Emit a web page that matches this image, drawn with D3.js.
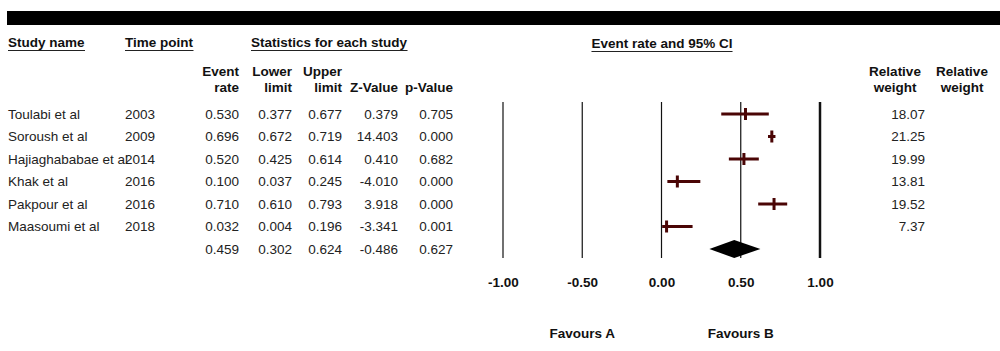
<!DOCTYPE html>
<html>
<head>
<meta charset="utf-8">
<script src="https://cdn.jsdelivr.net/npm/d3@7"></script>
<style>
  html, body { margin: 0; padding: 0; background: #fff; }
  svg { display: block; font-family: "Liberation Sans", Arial, sans-serif; }
</style>
</head>
<body>
<svg id="chart"></svg>
<script>
// ───────────────── DATA ─────────────────
const studies = ["Toulabi et al", "Soroush et al", "Hajiaghababae et al", "Khak et al", "Pakpour et al", "Maasoumi et al"];
const years = ["2003", "2009", "2014", "2016", "2016", "2018"];
const eventRate = [0.530, 0.696, 0.520, 0.100, 0.710, 0.032];
const lowerLimit = [0.377, 0.672, 0.425, 0.037, 0.610, 0.004];
const upperLimit = [0.677, 0.719, 0.614, 0.245, 0.793, 0.196];
const zValue = [0.379, 14.403, 0.410, -4.010, 3.918, -3.341];
const pValue = [0.705, 0.000, 0.682, 0.000, 0.000, 0.001];
const relWeight = [18.07, 21.25, 19.99, 13.81, 19.52, 7.37];

const summary = { rate: 0.459, lower: 0.302, upper: 0.624, z: -0.486, p: 0.627 };

const axisTicks = [-1, -0.5, 0, 0.5, 1];

// ───────────────── SIZE ─────────────────
const W = 1000;
const H = 351;
const FS = 13.5;
const MAROON = "#4a0505";

const svg = d3.select("#chart")
  .attr("width", W)
  .attr("height", H)
  .attr("viewBox", `0 0 ${W} ${H}`)
  .style("font-size", FS + "px");

// plain hyphen instead of unicode minus
const hyph = f => v => f(v).replace("\u2212", "-");
const fmt3 = hyph(d3.format(".3f"));
const fmt2 = hyph(d3.format(".2f"));

// black band
svg.append("rect")
  .attr("x", 7).attr("y", 11)
  .attr("width", W - 7).attr("height", 14)
  .attr("fill", "#000");

// ───── HEADERS ─────
function underlined(x, y, txt, anchor) {
  const t = svg.append("text")
    .attr("x", x).attr("y", y)
    .attr("text-anchor", anchor || "start")
    .attr("font-weight", "bold")
    .attr("fill", "#111")
    .text(txt);
  const bb = t.node().getBBox();
  svg.append("line")
    .attr("x1", bb.x).attr("x2", bb.x + bb.width)
    .attr("y1", y + 3.5).attr("y2", y + 3.5)
    .attr("stroke", "#222").attr("stroke-width", 1);
}

underlined(8, 47, "Study name");
underlined(125, 47, "Time point");
underlined(251, 47, "Statistics for each study");
underlined(662, 48, "Event rate and 95% CI", "middle");

// column right edges
const colX = [239, 292, 342, 398, 453];
const colHead = [["Event", "rate"], ["Lower", "limit"], ["Upper", "limit"], ["", "Z-Value"], ["", "p-Value"]];

colHead.forEach((h, i) => {
  h.forEach((line, k) => {
    svg.append("text")
      .attr("x", colX[i]).attr("y", 76 + k * 16)
      .attr("text-anchor", "end")
      .attr("font-weight", "bold")
      .attr("fill", "#111")
      .text(line);
  });
});

[895, 962].forEach(cx => {
  ["Relative", "weight"].forEach((line, k) => {
    svg.append("text")
      .attr("x", cx).attr("y", 76 + k * 16)
      .attr("text-anchor", "middle")
      .attr("font-weight", "bold")
      .attr("fill", "#111")
      .text(line);
  });
});

// ───── ROWS ─────
const rowY = d3.scaleLinear().domain([0, 6]).range([114, 249]);

const rows = svg.append("g").attr("fill", "#222");

studies.forEach((s, i) => {
  const yb = rowY(i) + 4.5;
  rows.append("text").attr("x", 8).attr("y", yb).text(s);
  rows.append("text").attr("x", 125).attr("y", yb).text(years[i]);
  const vals = [eventRate[i], lowerLimit[i], upperLimit[i], zValue[i], pValue[i]];
  vals.forEach((v, c) => {
    rows.append("text")
      .attr("x", colX[c]).attr("y", yb)
      .attr("text-anchor", "end")
      .text(fmt3(v));
  });
  rows.append("text")
    .attr("x", 925).attr("y", yb)
    .attr("text-anchor", "end")
    .text(fmt2(relWeight[i]));
});

// summary row
[summary.rate, summary.lower, summary.upper, summary.z, summary.p].forEach((v, c) => {
  rows.append("text")
    .attr("x", colX[c]).attr("y", rowY(6) + 4.5)
    .attr("text-anchor", "end")
    .text(fmt3(v));
});

// ───── FOREST ─────
const xScale = d3.scaleLinear().domain([-1, 1]).range([503, 820]);

svg.append("g")
  .selectAll("line")
  .data(axisTicks)
  .join("line")
  .attr("x1", d => xScale(d)).attr("x2", d => xScale(d))
  .attr("y1", 102).attr("y2", 258)
  .attr("stroke", "#111")
  .attr("stroke-width", d => d === 1 ? 2.5 : 1.2);

const axis = svg.append("g")
  .attr("transform", "translate(0,274)")
  .call(d3.axisBottom(xScale).tickValues(axisTicks).tickFormat(fmt2).tickSize(0));

axis.select(".domain").remove();
axis.selectAll("text")
  .attr("font-family", "Liberation Sans, Arial, sans-serif")
  .attr("font-size", FS)
  .attr("font-weight", "bold")
  .attr("fill", "#111");

const ci = svg.append("g").attr("stroke", MAROON).attr("stroke-width", 3);

studies.forEach((s, i) => {
  const y = rowY(i);
  ci.append("line")
    .attr("x1", xScale(lowerLimit[i])).attr("x2", xScale(upperLimit[i]))
    .attr("y1", y).attr("y2", y);
  ci.append("line")
    .attr("x1", xScale(eventRate[i])).attr("x2", xScale(eventRate[i]))
    .attr("y1", y - 6).attr("y2", y + 6);
});

// diamond
const dy = rowY(6);
svg.append("path")
  .attr("d", d3.line()([
    [xScale(summary.lower), dy],
    [xScale(summary.rate), dy - 9],
    [xScale(summary.upper), dy],
    [xScale(summary.rate), dy + 9]
  ]) + "Z")
  .attr("fill", "#000");

// favours labels
[["Favours A", -0.5], ["Favours B", 0.5]].forEach(([t, v]) => {
  svg.append("text")
    .attr("x", xScale(v)).attr("y", 338)
    .attr("text-anchor", "middle")
    .attr("font-weight", "bold")
    .attr("fill", "#111")
    .text(t);
});
</script>
</body>
</html>
